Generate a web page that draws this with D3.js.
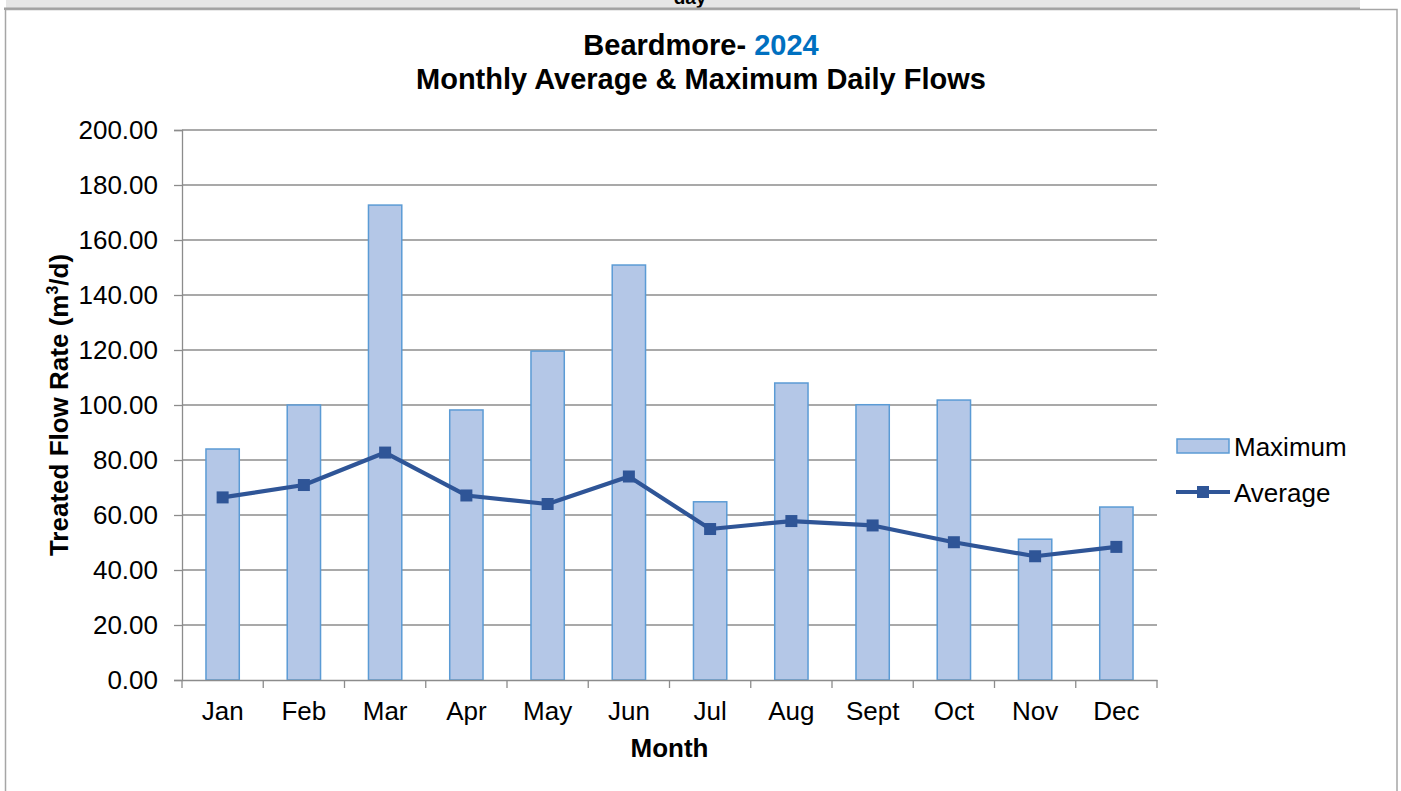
<!DOCTYPE html>
<html>
<head>
<meta charset="utf-8">
<script src="https://cdn.jsdelivr.net/npm/d3@7"></script>
<style>
html,body{margin:0;padding:0;background:#fff;overflow:hidden;}
svg{display:block;font-family:Arial,"Liberation Sans",sans-serif;}
</style>
</head>
<body>
<svg id="chart" width="1401" height="791"></svg>
<script>
const months = ["Jan","Feb","Mar","Apr","May","Jun","Jul","Aug","Sept","Oct","Nov","Dec"];
const maximum = [84.0, 100.0, 172.7, 98.2, 119.6, 150.9, 64.8, 108.0, 100.1, 101.8, 51.2, 62.9];
const average = [66.4, 70.9, 82.7, 67.1, 64.0, 74.0, 54.9, 57.8, 56.2, 50.1, 45.0, 48.4];
const yTicks = [0,20,40,60,80,100,120,140,160,180,200];

const svg = d3.select("#chart");
const W = 1401, H = 791;
const plot = {left:182, right:1157, top:130, bottom:680};
const FONT = "Arial, 'Liberation Sans', sans-serif";

// top banner (previous page element)
svg.append("rect").attr("x",6).attr("y",0).attr("width",1354).attr("height",8).attr("fill","#e6e6e6");
const clip = svg.append("clipPath").attr("id","bandclip");
clip.append("rect").attr("x",0).attr("y",0).attr("width",W).attr("height",8);
svg.append("text").attr("x",690).attr("y",4).attr("text-anchor","middle")
  .attr("font-weight","bold").attr("font-size",19).attr("fill","#000")
  .attr("clip-path","url(#bandclip)").text("day");
svg.append("rect").attr("x",4).attr("y",7.5).attr("width",1356).attr("height",2.5).attr("fill","#a0a0a0");

// chart border
svg.append("rect").attr("x",5.5).attr("y",9.5).attr("width",1391.5).attr("height",800)
  .attr("fill","none").attr("stroke","#a6a6a6").attr("stroke-width",1.5);

const x = d3.scaleBand().domain(months).range([plot.left, plot.right]).paddingInner(0).paddingOuter(0);
const y = d3.scaleLinear().domain([0,200]).range([plot.bottom, plot.top]);

// gridlines
svg.append("g").selectAll("line").data(yTicks.filter(d=>d>0)).join("line")
  .attr("x1",plot.left).attr("x2",plot.right)
  .attr("y1",d=>y(d)).attr("y2",d=>y(d))
  .attr("stroke","#8c8c8c").attr("stroke-width",1.3);

// bars
const bw = x.bandwidth()*0.41;
svg.append("g").selectAll("rect").data(months).join("rect")
  .attr("x",(d)=>x(d)+x.bandwidth()/2-bw/2)
  .attr("y",(d,i)=>y(maximum[i]))
  .attr("width",bw)
  .attr("height",(d,i)=>y(0)-y(maximum[i]))
  .attr("fill","#b4c7e7").attr("stroke","#5b9bd5").attr("stroke-width",1.5);

// y axis
const yAxis = d3.axisLeft(y).tickValues(yTicks).tickSize(8).tickPadding(16).tickFormat(d3.format(".2f"));
const gy = svg.append("g").attr("transform",`translate(${plot.left},0)`).call(yAxis);
gy.select(".domain").attr("stroke","#8c8c8c").attr("stroke-width",1.3);
gy.selectAll(".tick line").attr("stroke","#8c8c8c").attr("stroke-width",1.3);
gy.selectAll(".tick text").attr("font-size",26).attr("fill","#000").attr("font-family",FONT);

// x axis
const xAxis = d3.axisBottom(x).tickSize(0).tickPadding(22);
const gx = svg.append("g").attr("transform",`translate(0,${plot.bottom})`).call(xAxis);
gx.select(".domain").attr("stroke","#8c8c8c").attr("stroke-width",1.3);
gx.selectAll(".tick text").attr("font-size",26).attr("fill","#000").attr("font-family",FONT);
// category boundary ticks
const bounds = months.map(m=>x(m)).concat([plot.right]);
gx.append("g").selectAll("line").data(bounds).join("line")
  .attr("x1",d=>d).attr("x2",d=>d).attr("y1",0).attr("y2",8)
  .attr("stroke","#8c8c8c").attr("stroke-width",1.3);

// average line
const cx = (d)=>x(d)+x.bandwidth()/2;
const line = d3.line().x((d,i)=>cx(months[i])).y(d=>y(d));
svg.append("path").datum(average).attr("d",line)
  .attr("fill","none").attr("stroke","#2f5597").attr("stroke-width",4.2).attr("stroke-linejoin","round");
const ms = 12;
svg.append("g").selectAll("rect").data(average).join("rect")
  .attr("x",(d,i)=>cx(months[i])-ms/2).attr("y",d=>y(d)-ms/2)
  .attr("width",ms).attr("height",ms).attr("fill","#2f5597");

// titles
const t = svg.append("text").attr("x",701).attr("y",55).attr("text-anchor","middle")
  .attr("font-weight","bold").attr("font-size",29).attr("fill","#000");
t.append("tspan").text("Beardmore- ");
t.append("tspan").attr("fill","#0070c0").text("2024");
svg.append("text").attr("x",701).attr("y",89).attr("text-anchor","middle")
  .attr("font-weight","bold").attr("font-size",29).attr("fill","#000")
  .text("Monthly Average & Maximum Daily Flows");

// axis titles
svg.append("text").attr("x",(plot.left+plot.right)/2).attr("y",757).attr("text-anchor","middle")
  .attr("font-weight","bold").attr("font-size",26).attr("fill","#000").text("Month");
const yt = svg.append("text").attr("transform",`translate(68,${(plot.top+plot.bottom)/2}) rotate(-90)`)
  .attr("text-anchor","middle").attr("font-weight","bold").attr("font-size",26).attr("fill","#000");
yt.append("tspan").text("Treated Flow Rate (m");
yt.append("tspan").attr("font-size",16).attr("dy",-10).text("3");
yt.append("tspan").attr("dy",10).text("/d)");

// legend
const lg = svg.append("g");
lg.append("rect").attr("x",1177).attr("y",439).attr("width",52).attr("height",14)
  .attr("fill","#b4c7e7").attr("stroke","#5b9bd5").attr("stroke-width",1.5);
lg.append("text").attr("x",1234).attr("y",456).attr("font-size",26).attr("fill","#000").text("Maximum");
lg.append("line").attr("x1",1176).attr("x2",1230).attr("y1",492).attr("y2",492)
  .attr("stroke","#2f5597").attr("stroke-width",4.2);
lg.append("rect").attr("x",1203-ms/2).attr("y",492-ms/2).attr("width",ms).attr("height",ms).attr("fill","#2f5597");
lg.append("text").attr("x",1234).attr("y",502).attr("font-size",26).attr("fill","#000").text("Average");
</script>
</body>
</html>
